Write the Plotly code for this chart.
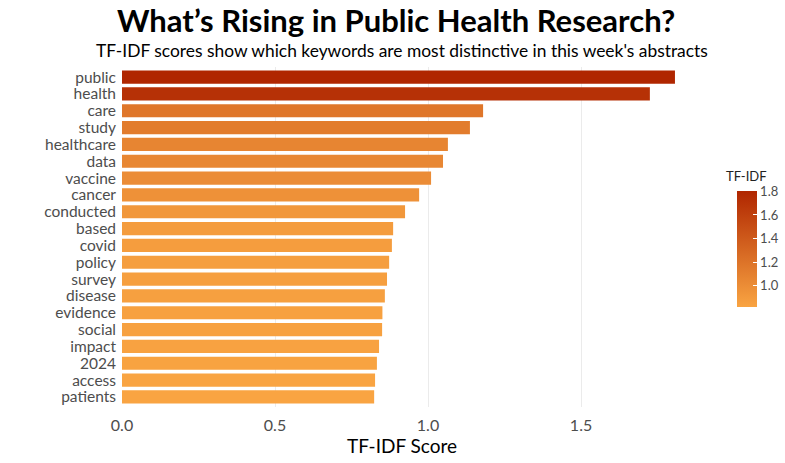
import plotly.graph_objects as go

keywords = ["public", "health", "care", "study", "healthcare", "data", "vaccine",
            "cancer", "conducted", "based", "covid", "policy", "survey", "disease",
            "evidence", "social", "impact", "2024", "access", "patients"]
scores = [1.807, 1.725, 1.180, 1.137, 1.065, 1.049, 1.010, 0.971, 0.925, 0.886,
          0.882, 0.873, 0.866, 0.859, 0.851, 0.850, 0.840, 0.833, 0.827, 0.824]
cbar_ticks = [1.0, 1.2, 1.4, 1.6, 1.8]
x_ticks = [0.0, 0.5, 1.0, 1.5]

FONT = "Lato"

fig = go.Figure(go.Bar(
    x=scores,
    y=keywords,
    orientation="h",
    width=0.78,
    marker=dict(
        color=scores,
        cmin=min(scores),
        cmax=max(scores),
        colorscale=[[0, "#F9A442"], [1, "#B02600"]],
        line=dict(width=0),
        colorbar=dict(
            thickness=20,
            lenmode="pixels",
            len=116,
            ypad=0,
            x=1.08,
            xanchor="left",
            y=0.466,
            yanchor="middle",
            outlinewidth=0,
            tickvals=cbar_ticks,
            ticktext=[f"{v:.1f}" for v in cbar_ticks],
            ticks="inside",
            tickcolor="white",
            ticklen=4,
            tickwidth=1,
            tickfont=dict(size=13, color="#4D4D4D", family=FONT),
        ),
    ),
    hovertemplate="%{y}: %{x:.3f}<extra></extra>",
))

fig.update_layout(
    width=785, height=463,
    margin=dict(l=122, r=103, t=67, b=56, autoexpand=False),
    paper_bgcolor="white",
    plot_bgcolor="white",
    font=dict(family=FONT, color="#4D4D4D"),
    showlegend=False,
    annotations=[
        dict(text="<b>What’s Rising in Public Health Research?</b>", xref="paper", yref="paper",
             x=0.49, y=1.0, yshift=47, showarrow=False, xanchor="center", yanchor="middle",
             font=dict(size=31, color="black", family=FONT)),
        dict(text="TF-IDF scores show which keywords are most distinctive in this week's abstracts",
             xref="paper", yref="paper", x=0.5, y=1.0, yshift=17, showarrow=False,
             xanchor="center", yanchor="middle",
             font=dict(size=17.4, color="black", family=FONT)),
        dict(text="TF-IDF", xref="paper", yref="paper", x=1.075, y=0.679,
             showarrow=False, xanchor="left", yanchor="middle",
             font=dict(size=13, color="#222", family=FONT)),
    ],
)

fig.update_xaxes(
    range=[0, 1.83],
    tickvals=x_ticks,
    ticktext=[f"{v:.1f}" for v in x_ticks],
    showgrid=True, gridcolor="#EBEBEB", gridwidth=1,
    zeroline=False, showline=False, ticks="",
    automargin=False,
    ticklabelstandoff=7,
    tickfont=dict(size=16, color="#4D4D4D", family=FONT),
    title=dict(text="TF-IDF Score", font=dict(size=19, color="black", family=FONT), standoff=5),
)
fig.update_yaxes(
    categoryorder="array",
    categoryarray=keywords[::-1],
    tickmode="array",
    tickvals=keywords,
    ticktext=keywords,
    range=[-0.6, len(keywords) - 0.4],
    showgrid=False, zeroline=False, showline=False, ticks="",
    automargin=False,
    ticklabelstandoff=5,
    tickfont=dict(size=15.5, color="#4D4D4D", family=FONT),
)

fig.write_html("out.html", config={"displayModeBar": False},
               post_script="document.body.style.margin='0';document.body.style.padding='0';")
